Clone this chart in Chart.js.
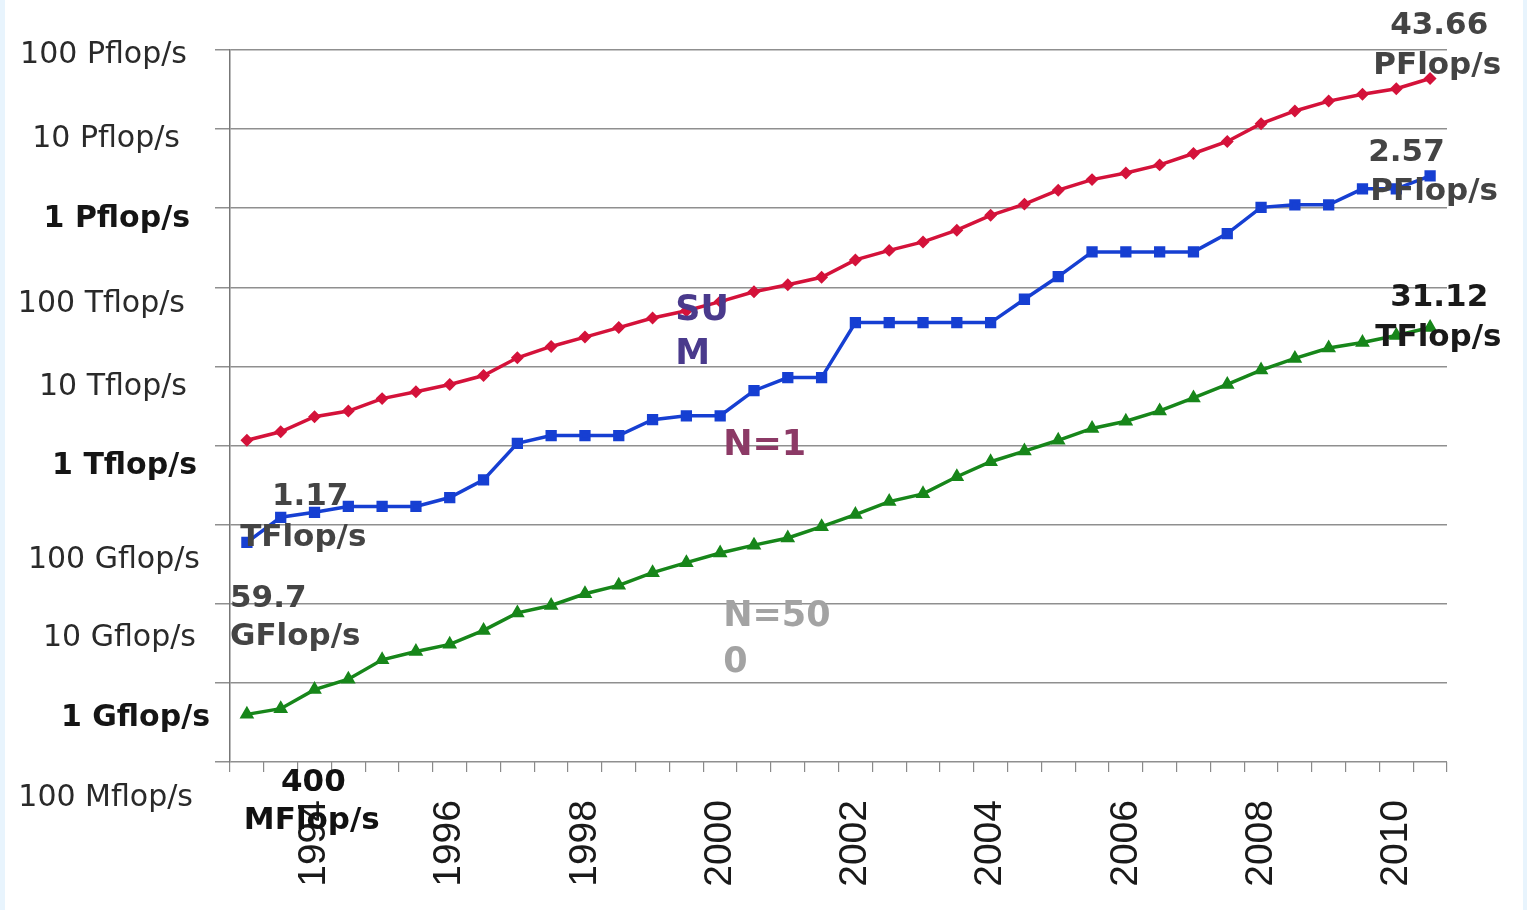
<!DOCTYPE html>
<html>
<head>
<meta charset="utf-8">
<script src="https://cdn.jsdelivr.net/npm/chart.js@4.4.1/dist/chart.umd.min.js"></script>
<style>
  html, body { margin: 0; padding: 0; background: #e8f4fd; }
  #wrap { position: absolute; left: 5px; top: 0; width: 1518px; height: 910px; background: #fff; }
</style>
</head>
<body>
<div id="wrap"><canvas id="perfChart"></canvas></div>
<script>
// TOP500 lists (June / November), values in GFlop/s
const listLabels = [
  "1993-06", "1993-11", "1994-06", "1994-11", "1995-06", "1995-11",
  "1996-06", "1996-11", "1997-06", "1997-11", "1998-06", "1998-11",
  "1999-06", "1999-11", "2000-06", "2000-11", "2001-06", "2001-11",
  "2002-06", "2002-11", "2003-06", "2003-11", "2004-06", "2004-11",
  "2005-06", "2005-11", "2006-06", "2006-11", "2007-06", "2007-11",
  "2008-06", "2008-11", "2009-06", "2009-11", "2010-06", "2010-11"
];

const sumValues = [
  1167, 1493, 2317, 2732, 3922, 4784, 5905, 7670, 12880, 17900, 23500, 31000,
  41000, 50600, 66000, 88000, 108000, 134000, 222000, 293000, 375000, 528000,
  813000, 1127000, 1690000, 2300000, 2790000, 3530000, 4920000, 6970000,
  11700000, 16950000, 22600000, 27600000, 32400000, 43660000
];

const n1Values = [
  59.7, 124, 143.4, 170, 170, 170, 220.4, 368.2, 1068, 1338, 1338, 1338,
  2121, 2379, 2379, 4938, 7226, 7226, 35860, 35860, 35860, 35860, 35860, 70720,
  136800, 280600, 280600, 280600, 280600, 478200, 1026000, 1105000, 1105000,
  1759000, 1759000, 2566000
];

const n500Values = [
  0.4, 0.472, 0.822, 1.114, 1.96, 2.49, 3.07, 4.61, 7.67, 9.51, 13.39, 17.1,
  24.73, 33.1, 43.8, 55.1, 67.8, 94.3, 134.3, 195.8, 245.1, 403.4, 624, 850.6,
  1166, 1646, 2026, 2737, 4005, 5929, 9000, 12640, 17090, 20050, 24670, 31120
];

const yTickValues = [1e8, 1e7, 1e6, 1e5, 1e4, 1e3, 100, 10, 1, 0.1];
const yTickLabels = [
  "100 Pflop/s", "10 Pflop/s", "1 Pflop/s", "100 Tflop/s", "10 Tflop/s",
  "1 Tflop/s", "100 Gflop/s", "10 Gflop/s", "1 Gflop/s", "100 Mflop/s"
];

// small hand nudges for the slide's loosely placed axis labels [dx from plot left, dy]
const yLabelNudge = [
  [-43, 5], [-50, 10], [-40, 11], [-45, 17], [-43, 21],
  [-33, 21], [-30, 36], [-34, 34], [-20, 35], [-37, 36]
];

// text notes placed in data space: [category index, GFlop/s]
const notes = [
  { text: "43.66", at: [33.82, 2.0e8], color: "#444", size: 31 },
  { text: "PFlop/s", at: [33.32, 6.2e7], color: "#444", size: 31 },
  { text: "2.57", at: [33.17, 4.95e6], color: "#444", size: 31 },
  { text: "PFlop/s", at: [33.23, 1.6e6], color: "#444", size: 31 },
  { text: "31.12", at: [33.82, 7.3e4], color: "#1a1a1a", size: 31 },
  { text: "TFlop/s", at: [33.38, 2.27e4], color: "#1a1a1a", size: 31 },
  { text: "SU", at: [12.67, 5.1e4], color: "#4a3a8c", size: 35 },
  { text: "M", at: [12.67, 1.38e4], color: "#4a3a8c", size: 35 },
  { text: "N=1", at: [14.09, 980], color: "#8c3a66", size: 35 },
  { text: "N=50", at: [14.09, 6.9], color: "#a3a3a3", size: 35 },
  { text: "0", at: [14.09, 1.77], color: "#a3a3a3", size: 35 },
  { text: "1.17", at: [0.74, 222], color: "#444", size: 31 },
  { text: "TFlop/s", at: [-0.2, 67], color: "#444", size: 31 },
  { text: "59.7", at: [-0.5, 11.4], color: "#444", size: 31 },
  { text: "GFlop/s", at: [-0.5, 3.78], color: "#444", size: 31 },
  { text: "400", at: [1.01, 0.055], color: "#111", size: 31 },
  { text: "MFlop/s", at: [-0.09, 0.0178], color: "#111", size: 31 }
];

// Draws the y labels and the slide notes on top of the chart
const slideText = {
  id: "slideText",
  afterDraw(chart) {
    const { ctx, chartArea, scales } = chart;
    ctx.save();
    ctx.textBaseline = "middle";

    ctx.textAlign = "right";
    yTickValues.forEach((v, i) => {
      const label = yTickLabels[i];
      const bold = label.startsWith("1 ");
      ctx.font = (bold ? "bold " : "") + "30px 'DejaVu Sans'";
      ctx.fillStyle = bold ? "#151515" : "#2a2a2a";
      const px = chartArea.left + yLabelNudge[i][0];
      const py = scales.y.getPixelForValue(v) + yLabelNudge[i][1];
      ctx.fillText(label, px, py);
    });

    ctx.textAlign = "left";
    notes.forEach((n) => {
      ctx.font = "bold " + n.size + "px 'DejaVu Sans'";
      ctx.fillStyle = n.color;
      ctx.fillText(n.text, scales.x.getPixelForValue(n.at[0]), scales.y.getPixelForValue(n.at[1]));
    });
    ctx.restore();
  },
};

const ctx = document.getElementById("perfChart").getContext("2d");

new Chart(ctx, {
  type: "line",
  data: {
    labels: listLabels,
    datasets: [
      {
        label: "SUM",
        data: sumValues,
        borderColor: "#d4123a",
        backgroundColor: "#d4123a",
        borderWidth: 3.5,
        pointStyle: "rectRot",
        pointRadius: 4,
        tension: 0,
      },
      {
        label: "N=1",
        data: n1Values,
        borderColor: "#163fd2",
        backgroundColor: "#163fd2",
        borderWidth: 3.5,
        pointStyle: "rect",
        pointRadius: 5.5,
        tension: 0,
      },
      {
        label: "N=500",
        data: n500Values,
        borderColor: "#17861a",
        backgroundColor: "#17861a",
        borderWidth: 3.5,
        pointStyle: "triangle",
        pointRadius: 5,
        tension: 0,
      },
    ],
  },
  options: {
    responsive: true,
    maintainAspectRatio: false,
    animation: false,
    layout: {
      padding: { top: 50, right: 76, bottom: 0, left: 0 },
    },
    scales: {
      x: {
        type: "category",
        offset: true,
        afterFit: (scale) => { scale.height = 148; },
        grid: {
          offset: true,
          drawOnChartArea: false,
          tickLength: 10,
          color: "#8a8a8a",
          lineWidth: 1.2,
        },
        border: { display: false },
        ticks: {
          autoSkip: false,
          maxRotation: 90,
          minRotation: 90,
          padding: 28,
          color: "#1a1a1a",
          font: { family: "'Liberation Sans'", size: 39 },
          callback: (value, index) => {
            const lbl = listLabels[index];
            const year = Number(lbl.slice(0, 4));
            return lbl.endsWith("-06") && year % 2 === 0 ? String(year) : "";
          },
        },
      },
      y: {
        type: "logarithmic",
        min: 0.1,
        max: 1e8,
        afterBuildTicks: (scale) => {
          scale.ticks = yTickValues.map((v) => ({ value: v }));
        },
        afterFit: (scale) => { scale.width = 225; },
        grid: {
          color: "#8f8f8f",
          lineWidth: 1.5,
          tickLength: 15,
        },
        border: { color: "#777", width: 1.5 },
        ticks: { display: false },
      },
    },
    plugins: {
      legend: { display: false },
      tooltip: { enabled: false },
    },
  },
  plugins: [slideText],
});
</script>
</body>
</html>
